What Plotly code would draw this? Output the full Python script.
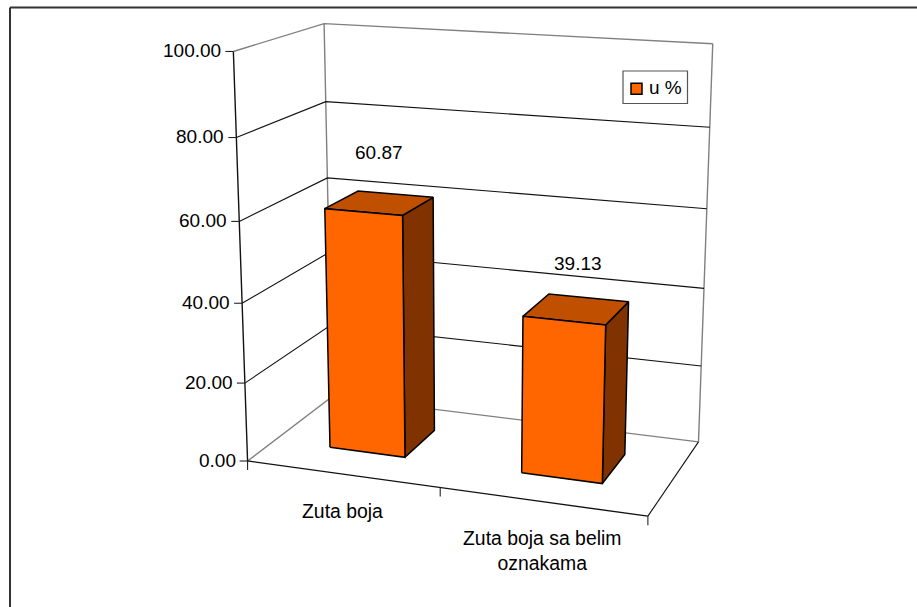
import numpy as np
import plotly.graph_objects as go

categories = ["Zuta boja", "Zuta boja sa belim<br>oznakama"]
values = [60.87, 39.13]
value_labels = ["60.87", "39.13"]
label_lift = [12.5, 11.2]
tick_values = [0, 20, 40, 60, 80, 100]
tick_labels = ["0.00", "20.00", "40.00", "60.00", "80.00", "100.00"]
series_name = "u %"

FRONT, TOP, SIDE = "#FF6600", "#C05000", "#803300"
FONT = dict(family="Liberation Sans, Arial, sans-serif", size=19, color="#000000")
CAT_FONT = dict(family="Liberation Sans, Arial, sans-serif", size=19.4, color="#000000")

# Camera of the 3-D box: (across, depth, value/100) -> page pixel, solved from the box corners.
calib = [
    (0,0,0,248,461,3),(0,1,0,328,399,1),(1,1,0,699,441,2),(1,0,0,647.5,517,2),(.5,0,0,440,487,1),
    (0,0,1,233,51.5,3),(0,1,1,325,24.5,1),(1,1,1,713,44,2),(0,0,.2,245,382,1),(0,1,.8,327,101,1),
    (1,1,.8,709.3,127,1),(1,1,.2,701.3,366,1),(1,1,.4,702.7,288.3,1),(0,0,.8,236.5,137,1),
    (0,0,.6,240,220,1),(0,1,.6,328,178,1),
]
A = []
for u, w, h, x, y, k in calib:
    A.append([k*c for c in (u, w, h, 1, 0, 0, 0, 0, -x*u, -x*w, -x*h, -x)])
    A.append([k*c for c in (0, 0, 0, 0, u, w, h, 1, -y*u, -y*w, -y*h, -y)])
P = np.linalg.svd(np.array(A, float))[2][-1].reshape(3, 4)


def proj(u, w, val):
    v = P @ np.array([u, w, val / 100.0, 1.0])
    return v[0] / v[2], v[1] / v[2]


fig = go.Figure()


def poly(points, color=None, line="#000000", width=1.0):
    pts = [proj(*p) for p in points]
    xs, ys = [p[0] for p in pts], [p[1] for p in pts]
    if color is not None:
        xs.append(xs[0]); ys.append(ys[0])
    fig.add_trace(go.Scatter(
        x=xs, y=ys, mode="lines", line=dict(color=line, width=width),
        fill="toself" if color else None, fillcolor=color,
        showlegend=False, hoverinfo="skip"))


GRAY = "#808080"
# walls and floor edges
poly([(0, 0, 100), (0, 1, 100), (1, 1, 100)], line=GRAY, width=1.4)
poly([(0, 1, 0), (0, 1, 100)], line=GRAY, width=1.4)
poly([(1, 1, 0), (1, 1, 100)], line=GRAY, width=1.4)
poly([(0, 0, 0), (0, 1, 0), (1, 1, 0)], line=GRAY, width=1.4)
for t in tick_values[1:-1]:
    poly([(0, 0, t), (0, 1, t), (1, 1, t)], line="#111111", width=1.1)
poly([(1, 1, 0), (1, 0, 0)], line="#111111", width=1.1)
poly([(0, 0, 100), (0, 0, 0), (1, 0, 0)], line="#111111", width=1.4)

# value-axis ticks and labels
for t, lab in zip(tick_values, tick_labels):
    x, y = proj(0, 0, t)
    fig.add_trace(go.Scatter(x=[x - 8, x], y=[y, y], mode="lines",
                             line=dict(color="#222222", width=1.1), showlegend=False, hoverinfo="skip"))
    fig.add_annotation(x=x - 10, y=y - 1, text=lab, showarrow=False, xanchor="right",
                       yanchor="middle", font=FONT)

# category ticks
for u in [0, 0.5, 1]:
    x, y = proj(u, 0, 0)
    fig.add_trace(go.Scatter(x=[x, x], y=[y, y + 9], mode="lines",
                             line=dict(color="#222222", width=1.1), showlegend=False, hoverinfo="skip"))

# bars
for i, (cat, val, lab, lift) in enumerate(zip(categories, values, value_labels, label_lift)):
    c = (i + 0.5) / len(values)
    u0, u1, w0, w1 = c - 0.1, c + 0.1, 0.305, 0.705
    poly([(u1, w0, 0), (u1, w1, 0), (u1, w1, val), (u1, w0, val)], SIDE, width=1.5)
    poly([(u0, w0, val), (u1, w0, val), (u1, w1, val), (u0, w1, val)], TOP, width=1.5)
    poly([(u0, w0, 0), (u1, w0, 0), (u1, w0, val), (u0, w0, val)], FRONT, width=1.5)
    x, y = proj(c, 0.5, val + lift)
    fig.add_annotation(x=x + i, y=y, text=lab, showarrow=False, font=FONT)
    x, y = proj(c, 0, 0)
    fig.add_annotation(x=x, y=y + 23.5, text=cat, showarrow=False, yanchor="top", font=CAT_FONT)

# legend entry
fig.add_trace(go.Scatter(
    x=[636.5], y=[88.7], mode="markers", name=series_name, showlegend=False, hoverinfo="skip",
    marker=dict(symbol="square", size=11, color=FRONT, line=dict(color="#000000", width=1.5))))
fig.add_annotation(x=647, y=87.5, text=series_name, showarrow=False, xanchor="left", font=FONT)

fig.update_layout(
    width=917, height=607, margin=dict(l=0, r=0, t=0, b=0),
    paper_bgcolor="white", plot_bgcolor="white",
    xaxis=dict(range=[0, 917], visible=False, fixedrange=True),
    yaxis=dict(range=[607, 0], visible=False, fixedrange=True),
    showlegend=False, font=FONT,
    shapes=[
        dict(type="rect", xref="x", yref="y", x0=623, x1=687.5, y0=71, y1=103.5,
             line=dict(color="#555555", width=1.2)),
        dict(type="line", xref="paper", yref="paper", x0=10 / 917, x1=1, y0=1 - 7.5 / 607, y1=1 - 7.5 / 607,
             line=dict(color="#333333", width=2)),
        dict(type="line", xref="paper", yref="paper", x0=10 / 917, x1=10 / 917, y0=0, y1=1 - 7.5 / 607,
             line=dict(color="#333333", width=2)),
    ],
)
fig.write_html("out.html", post_script="document.body.style.margin='0';", config=dict(displayModeBar=False))
